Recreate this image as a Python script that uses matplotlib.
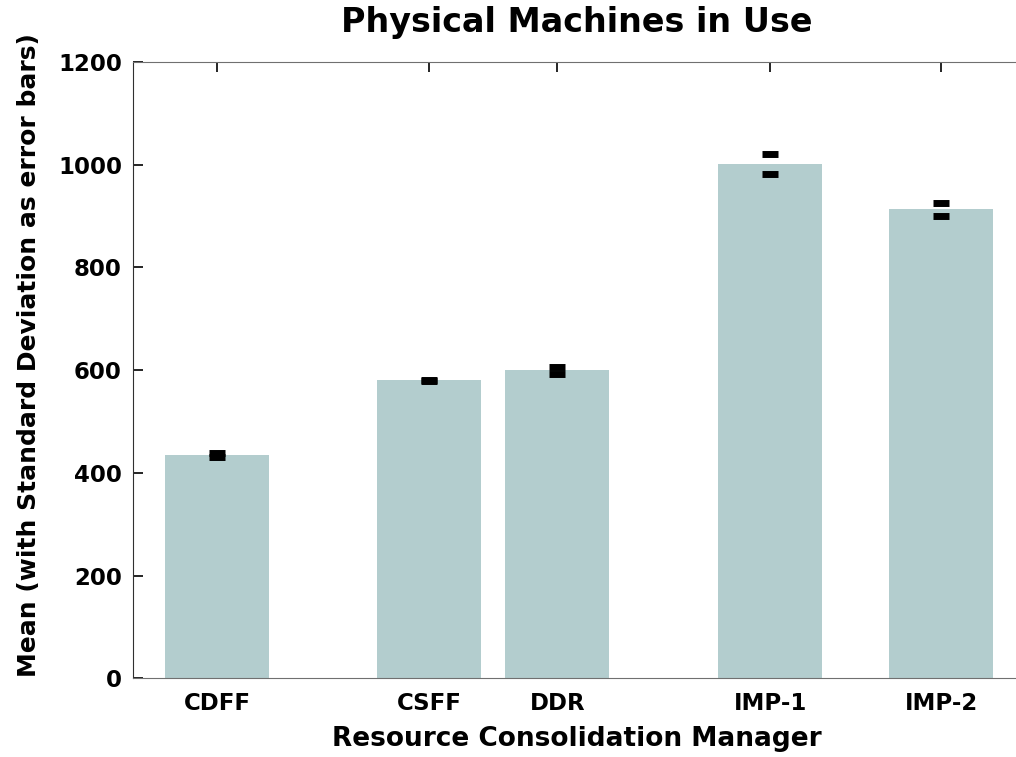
import matplotlib.pyplot as plt
import numpy as np

managers = ['CDFF', 'CSFF', 'DDR', 'IMP-1', 'IMP-2']
# bar centres (in bar-width units), matching the uneven spacing of the original
positions = [0.0, 2.04, 3.27, 5.32, 6.96]
means = [434, 580, 600, 1002, 913]
stds = [4, 0.5, 7, 19, 13]

plt.rcParams['font.family'] = ['DejaVu Sans']
plt.rcParams['font.weight'] = 'bold'

fig = plt.figure(figsize=(10.16, 7.57), dpi=100)
ax = fig.add_axes([0.131, 0.104, 0.873, 0.814])

ax.bar(positions, means, width=1.0, color='#b3cdce', zorder=1)
ax.errorbar(positions, means, yerr=stds, fmt='none', ecolor='black',
            elinewidth=0, capsize=5.8, capthick=5, zorder=2)
ax.set_axisbelow(True)

ax.set_xlim(-0.808, 7.72)
ax.set_ylim(0, 1200)
ax.set_yticks(np.arange(0, 1201, 200))
ax.set_xticks(positions)
ax.set_xticklabels(managers)

ax.tick_params(axis='both', direction='in', length=7, width=1.2,
               labelsize=16.5, top=True, right=False)
ax.tick_params(axis='x', pad=10)
ax.tick_params(axis='y', pad=8)
for lab in ax.get_xticklabels() + ax.get_yticklabels():
    lab.set_fontweight('bold')

for s in ['top', 'bottom']:
    ax.spines[s].set_color('#707070')
ax.spines['left'].set_color('#303030')
ax.spines['right'].set_visible(False)

ax.set_title('Physical Machines in Use', fontsize=24, fontweight='bold', pad=22)
ax.set_xlabel('Resource Consolidation Manager', fontsize=19, fontweight='bold', labelpad=8)
ax.set_ylabel('Mean (with Standard Deviation as error bars)', fontsize=18,
              fontweight='bold')
ax.yaxis.set_label_coords(-0.104, 0.524)

fig.savefig('out.png', dpi=100)
